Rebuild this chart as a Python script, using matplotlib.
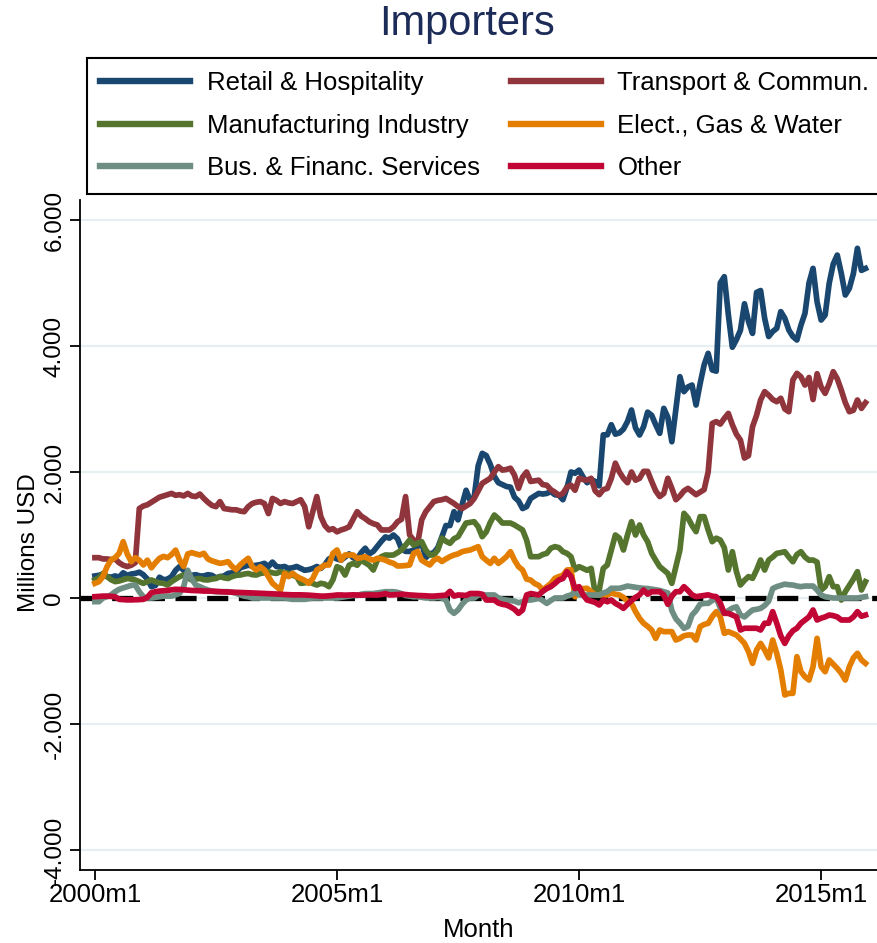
import numpy as np
import matplotlib
matplotlib.use('Agg')
import matplotlib.pyplot as plt
from matplotlib.ticker import FuncFormatter

plt.rcParams['font.family'] = ['Liberation Sans', 'DejaVu Sans']

# monthly values, 2000m1 .. 2015m12 (millions USD)
retail = [
    350, 360, 380, 340, 330, 350, 330, 400, 360, 380, 390, 410,  # 2000
    370, 300, 180, 200, 330, 290, 300, 340, 440, 500, 440, 350,  # 2001
    360, 370, 350, 350, 370, 360, 320, 340, 350, 390, 400, 410,  # 2002
    480, 500, 520, 510, 520, 530, 550, 500, 570, 500, 490, 500,  # 2003
    470, 480, 500, 470, 440, 450, 470, 500, 470, 530, 620, 650,  # 2004
    620, 600, 650, 700, 640, 620, 720, 790, 700, 740, 820, 900,  # 2005
    970, 950, 1000, 940, 780, 740, 740, 760, 820, 870, 640, 700,  # 2006
    720, 800, 970, 1150, 1150, 1370, 1240, 1480, 1710, 1550, 1600, 2100,  # 2007
    2296, 2260, 2120, 1930, 1830, 1800, 1770, 1760, 1600, 1540, 1420, 1450,  # 2008
    1580, 1620, 1660, 1650, 1660, 1690, 1640, 1630, 1560, 1750, 2000, 1980,  # 2009
    2030, 1920, 1830, 1880, 1850, 1780, 2590, 2590, 2750, 2600, 2620, 2680,  # 2010
    2800, 2984, 2700, 2587, 2720, 2950, 2900, 2750, 2614, 3010, 2870, 2480,  # 2011
    3000, 3513, 3275, 3350, 3380, 3063, 3400, 3700, 3883, 3620, 3600, 5000,  # 2012
    5100, 4500, 3980, 4100, 4250, 4670, 4390, 4200, 4850, 4880, 4440, 4150,  # 2013
    4230, 4280, 4545, 4440, 4253, 4150, 4095, 4330, 4518, 5000, 5232, 4700,  # 2014
    4412, 4490, 4994, 5300, 5443, 5153, 4809, 4915, 5150, 5550, 5200, 5230,  # 2015
]
transport = [
    640, 640, 620, 620, 610, 620, 560, 520, 500, 520, 560, 1420,
    1460, 1480, 1520, 1560, 1600, 1620, 1640, 1660, 1630, 1640, 1620, 1660,
    1620, 1610, 1650, 1580, 1520, 1470, 1450, 1530, 1420, 1410, 1400, 1400,
    1380, 1370, 1450, 1500, 1520, 1530, 1500, 1340, 1580, 1550, 1500, 1530,
    1510, 1500, 1530, 1560, 1450, 1130, 1370, 1610, 1290, 1150, 1080, 1100,
    1050, 1080, 1100, 1130, 1250, 1370, 1300, 1260, 1210, 1180, 1160, 1080,
    1080, 1080, 1130, 1210, 1250, 1610, 1000, 920, 870, 1240, 1370, 1450,
    1530, 1550, 1560, 1580, 1540, 1500, 1450, 1420, 1460, 1500, 1580, 1700,
    1820, 1860, 1900, 2000, 2085, 2030, 2040, 2060, 1950, 1740, 1920, 2000,
    1850, 1860, 1870, 1800, 1790, 1720, 1680, 1630, 1660, 1760, 1790, 1710,
    1900, 1880, 1870, 1900, 1700, 1640, 1720, 1740, 1900, 2140, 2000, 1900,
    1830, 2000, 1870, 1900, 2010, 2010, 1850, 1700, 1610, 1660, 1900, 1740,
    1560, 1620, 1700, 1740, 1690, 1640, 1680, 1720, 2000, 2770, 2800, 2760,
    2850, 2930, 2750, 2600, 2508, 2222, 2260, 2719, 2900, 3143, 3275, 3220,
    3150, 3116, 3170, 3000, 2957, 3460, 3566, 3510, 3380, 3500, 3150, 3560,
    3350, 3248, 3400, 3592, 3480, 3300, 3100, 2957, 2980, 3143, 3010, 3100,
]
manuf = [
    290, 320, 390, 340, 290, 260, 270, 290, 310, 300, 286, 260,
    233, 260, 286, 260, 240, 233, 206, 260, 300, 340, 365, 320,
    286, 300, 310, 290, 286, 300, 310, 340, 320, 310, 340, 360,
    365, 380, 390, 370, 365, 390, 400, 418, 400, 390, 418, 400,
    390, 360, 340, 233, 240, 260, 230, 206, 233, 220, 180, 290,
    497, 470, 365, 520, 550, 520, 603, 560, 520, 444, 600, 656,
    683, 680, 683, 720, 762, 840, 921, 840, 870, 894, 762, 683,
    683, 762, 950, 900, 868, 940, 973, 1080, 1190, 1200, 1211, 1130,
    973, 1050, 1200, 1317, 1260, 1190, 1190, 1190, 1159, 1120, 1080, 920,
    656, 656, 656, 690, 709, 790, 815, 800, 735, 709, 656, 450,
    497, 470, 440, 470, 74, 127, 470, 524, 762, 1000, 950, 762,
    1000, 1211, 1000, 1159, 1000, 894, 709, 600, 497, 444, 391, 233,
    497, 762, 1344, 1270, 1150, 1053, 1291, 1291, 1080, 894, 950, 920,
    800, 444, 735, 420, 206, 280, 340, 312, 444, 603, 444, 603,
    650, 709, 720, 735, 650, 576, 690, 735, 650, 600, 603, 570,
    127, 180, 339, 180, 180, -32, 100, 200, 300, 418, 127, 259,
]
elect = [
    233, 260, 340, 497, 603, 640, 709, 894, 700, 577, 640, 600,
    524, 600, 480, 560, 630, 660, 640, 690, 760, 600, 500, 700,
    720, 700, 683, 710, 620, 590, 570, 550, 560, 577, 500, 450,
    524, 580, 630, 497, 444, 497, 444, 340, 233, 180, 127, 392,
    340, 392, 340, 310, 280, 233, 310, 444, 480, 524, 524, 709,
    762, 600, 683, 683, 683, 630, 640, 655, 620, 600, 630, 620,
    600, 570, 550, 508, 510, 515, 524, 709, 740, 600, 560, 524,
    600, 630, 580, 620, 656, 683, 700, 735, 750, 762, 788, 815,
    656, 600, 550, 630, 550, 600, 656, 735, 600, 497, 444, 300,
    285, 230, 200, 127, 180, 230, 312, 340, 360, 444, 450, 20,
    150, 150, 153, 100, 48, 48, 48, 48, 79, 60, 48, 10,
    -50, -85, -217, -323, -402, -450, -508, -640, -508, -534, -534, -534,
    -667, -640, -600, -587, -587, -667, -455, -420, -402, -296, -217, -296,
    -561, -534, -560, -587, -650, -720, -852, -1037, -825, -720, -825, -950,
    -667, -878, -1142, -1539, -1513, -1513, -931, -1170, -1250, -1302, -1090, -640,
    -1090, -1170, -984, -1050, -1117, -1195, -1302, -1090, -950, -878, -984, -1037,
]
bus = [
    -58, -58, 0, 20, 50, 100, 138, 160, 180, 200, 206, 100,
    21, 0, 0, 10, 21, 30, 30, 30, 50, 75, 180, 440,
    300, 206, 180, 150, 127, 110, 100, 100, 100, 100, 90, 75,
    50, 30, 20, 0, 0, 0, 0, 0, 0, 0, 0, 0,
    -10, -21, -21, -21, -21, -10, 0, 0, 0, 0, 0, 0,
    0, 10, 20, 30, 40, 40, 60, 70, 70, 71, 80, 90,
    100, 100, 100, 90, 70, 40, 30, 20, 20, 10, 0, 0,
    0, 10, 0, -32, -190, -243, -190, -100, -32, 0, 0, 48,
    48, 48, 48, 48, 0, -20, -32, -40, -50, -75, -60, -32,
    -32, -20, 0, -40, -85, -40, 0, 0, 0, 30, 48, 100,
    48, 48, 48, 48, 48, 48, 80, 100, 154, 154, 154, 170,
    190, 180, 170, 160, 154, 150, 140, 130, 120, 100, 80, -200,
    -330, -400, -481, -450, -270, -200, -100, -85, -85, -40, 0, -160,
    -243, -200, -160, -140, -270, -300, -243, -190, -180, -164, -120, -50,
    150, 180, 200, 220, 210, 206, 190, 180, 190, 190, 190, 127,
    48, 20, 10, 0, 0, 0, 0, 0, 0, 0, 10, 21,
]
other = [
    21, 25, 30, 30, 25, 21, -21, -25, -30, -30, -28, -25,
    -21, 10, 85, 100, 110, 115, 120, 130, 138, 135, 130, 125,
    120, 118, 115, 110, 110, 108, 105, 100, 98, 95, 92, 90,
    88, 85, 82, 80, 78, 75, 72, 70, 65, 62, 60, 55,
    52, 50, 50, 50, 48, 45, 40, 35, 30, 30, 35, 40,
    48, 48, 45, 48, 50, 48, 45, 48, 50, 48, 48, 55,
    70, 48, 50, 55, 60, 55, 48, 45, 40, 38, 35, 30,
    30, 35, 40, 45, 106, 30, 48, 45, 40, 71, 71, 71,
    60, -32, -32, -32, -80, -100, -111, -140, -180, -243, -190, 48,
    71, 60, 48, 106, 150, 180, 230, 286, 310, 418, 340, 150,
    180, 48, -32, -50, -70, -111, -32, -60, -32, -85, -120, -164,
    -100, -40, 10, 50, 127, 60, 100, 100, 100, 50, -100, 30,
    100, 100, 180, 120, 50, 21, 30, 40, 50, 30, 21, -80,
    -243, -243, -270, -300, -508, -480, -480, -480, -480, -508, -400, -400,
    -217, -400, -600, -720, -600, -520, -480, -400, -350, -300, -190, -349,
    -320, -300, -270, -280, -300, -349, -349, -349, -300, -217, -290, -270,
]

labels = ['Retail & Hospitality', 'Transport & Commun.', 'Manufacturing Industry',
          'Elect., Gas & Water', 'Bus. & Financ. Services', 'Other']
colors = ['#1a476f', '#90353b', '#55752f', '#e37e00', '#6e8e84', '#c10534']
series = [retail, transport, manuf, elect, bus, other]

xtick_pos = [0, 60, 120, 180]
xtick_lab = ['2000m1', '2005m1', '2010m1', '2015m1']
ytick_pos = [-4000, -2000, 0, 2000, 4000, 6000]

months = np.arange(len(retail))

fig = plt.figure(figsize=(8.78, 9.43), dpi=100)
ax = fig.add_axes([80 / 878, 1 - 870 / 943, 798 / 878, 670 / 943])

ax.yaxis.grid(True, color='#e6eff1', lw=1.6)
ax.set_axisbelow(True)
ax.axhline(0, color='black', lw=3.8, dashes=(4, 2), zorder=1.5)

lines = []
for vals, lab, col in zip(series, labels, colors):
    ln, = ax.plot(months, vals, color=col, lw=4.1, label=lab, zorder=2,
                  solid_joinstyle='round')
    lines.append(ln)

ax.set_xlim(-3.7, 194.1)
ax.set_ylim(-4317, 6317)
ax.set_xticks(xtick_pos)
ax.set_xticklabels(xtick_lab)
ax.set_yticks(ytick_pos)
ax.yaxis.set_major_formatter(FuncFormatter(lambda v, p: f'{int(v):,}'.replace(',', '.')))

for s in ['top', 'right']:
    ax.spines[s].set_visible(False)
for s in ['left', 'bottom']:
    ax.spines[s].set_linewidth(1.3)
ax.tick_params(axis='both', direction='out', length=7, width=1.3)
ax.tick_params(axis='y', labelsize=17.5)
ax.tick_params(axis='x', labelsize=18.5, pad=2)
for t in ax.get_yticklabels():
    t.set_rotation(90)
    t.set_va('center')

ax.set_xlabel('Month', fontsize=18.5, labelpad=8)
ax.set_ylabel('Millions USD', fontsize=17.5)
ax.yaxis.set_label_coords(-0.05, 0.488)

fig.text(467 / 878, 1 - 24 / 943, 'Importers', ha='center', va='center',
         fontsize=30, color='#1c2b58')

# legend is filled column-wise, so reorder to get Stata's row order
order = [0, 2, 4, 1, 3, 5]
leg = fig.legend([lines[i] for i in order], [labels[i] for i in order],
                 ncol=2, loc='upper left', bbox_to_anchor=(87 / 878, 1 - 58 / 943),
                 fontsize=18.5, frameon=True, fancybox=False, framealpha=1,
                 edgecolor='black', handlelength=3.5, handletextpad=0.65,
                 columnspacing=1.2, labelspacing=0.72, borderpad=0.52,
                 borderaxespad=0)
leg.get_frame().set_linewidth(1.5)
for h in leg.get_lines():
    h.set_linewidth(4.6)

fig.savefig('out.png', dpi=100)
